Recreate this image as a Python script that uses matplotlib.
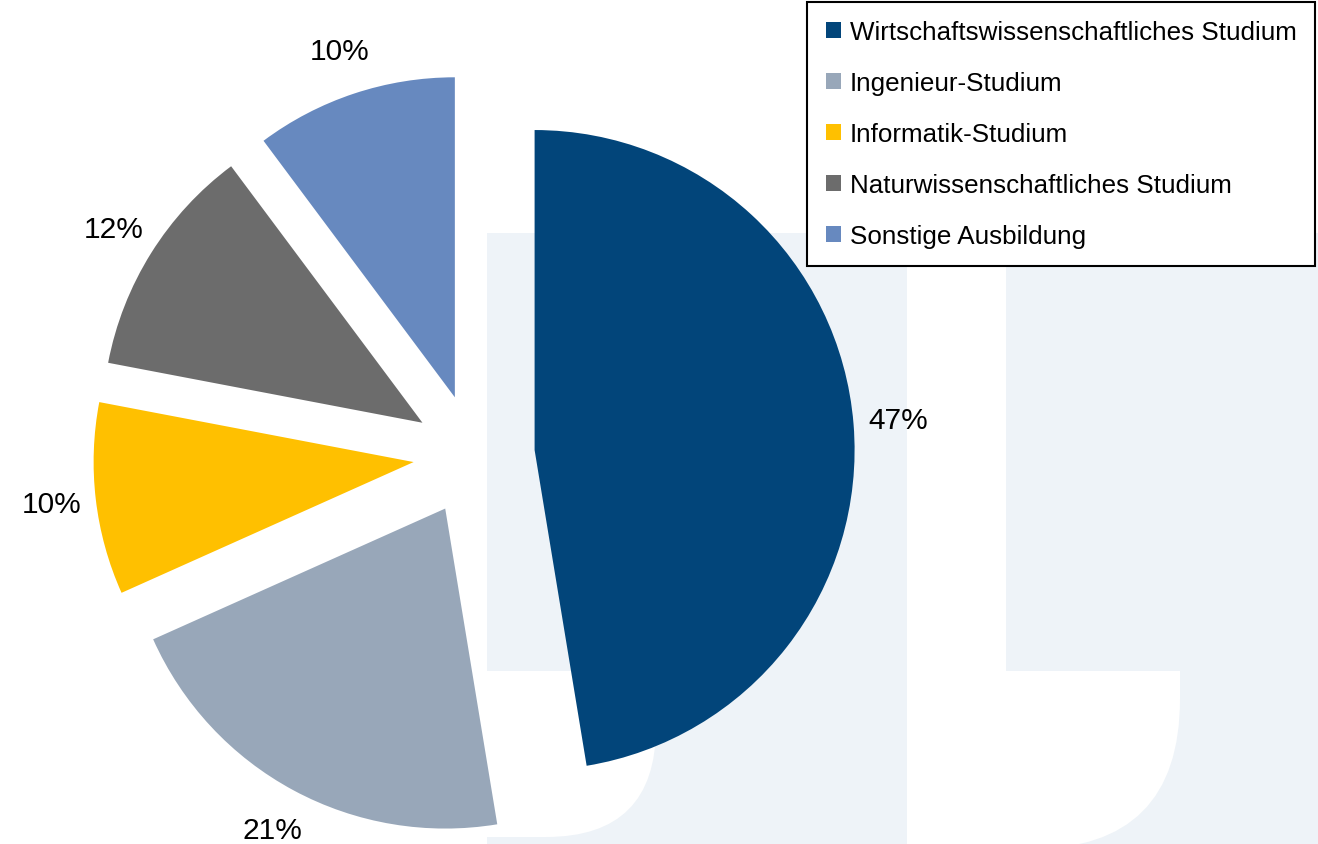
import matplotlib
matplotlib.use('Agg')
import matplotlib.pyplot as plt
from matplotlib.patches import Rectangle, PathPatch
from matplotlib.path import Path

plt.rcParams['font.family'] = ['Liberation Sans', 'DejaVu Sans']

# Daten
kategorien = ['Wirtschaftswissenschaftliches Studium', 'Ingenieur-Studium', 'Informatik-Studium',
              'Naturwissenschaftliches Studium', 'Sonstige Ausbildung']
anteile = [47.4, 20.9, 9.7, 11.8, 10.2]
farben = ['#02457A', '#98A7B9', '#FFC000', '#6C6C6C', '#6789BF']

W, H = 1318, 845
fig = plt.figure(figsize=(W / 100, H / 100), dpi=100)

# Hintergrund-Wasserzeichen (in Pixelkoordinaten)
bg = fig.add_axes([0, 0, 1, 1], zorder=0)
bg.set_xlim(0, W)
bg.set_ylim(H, 0)
bg.axis('off')
hell = '#EEF3F8'
bg.add_patch(Rectangle((487, 234), 420, 620, color=hell, lw=0))
bg.add_patch(Rectangle((1006, 234), 320, 620, color=hell, lw=0))

def weiss_form(x0, x1, y0, y1, r):
    verts = [(x0, y0), (x1, y0), (x1, y1 - r), (x1, y1), (x1 - r, y1), (x0, y1), (x0, y0)]
    codes = [Path.MOVETO, Path.LINETO, Path.LINETO, Path.CURVE3, Path.CURVE3, Path.LINETO, Path.CLOSEPOLY]
    return PathPatch(Path(verts, codes), facecolor='white', lw=0)

bg.add_patch(weiss_form(480, 656, 672, 838, 110))
bg.add_patch(weiss_form(1006, 1180, 672, 850, 150))

# Kreisdiagramm
ax = fig.add_axes([0, 0, 1, 1], zorder=1)
ax.patch.set_alpha(0)
wedges, texte, pct = ax.pie(anteile, colors=farben, startangle=90, counterclock=False,
                            explode=[0.19] * len(anteile), radius=1,
                            autopct='%1.0f%%', pctdistance=1.14,
                            textprops={'fontsize': 21.5, 'color': 'black'})
r_px = 320
cx, cy = 474, 456
ax.set_xlim(-cx / r_px, (W - cx) / r_px)
ax.set_ylim(-(H - cy) / r_px, cy / r_px)
ax.set_aspect('equal')
ax.axis('off')

leg = ax.legend(wedges, kategorien, loc='upper right',
                bbox_to_anchor=(1315 / W, 1 - 3 / H), bbox_transform=fig.transFigure,
                borderaxespad=0, fontsize=18.7, frameon=True, fancybox=False,
                framealpha=1, edgecolor='black', handlelength=0.6, handleheight=0.6,
                handletextpad=0.34, labelspacing=1.04, borderpad=0.7)
leg.get_frame().set_linewidth(1.5)

fig.savefig('out.png', dpi=100)
